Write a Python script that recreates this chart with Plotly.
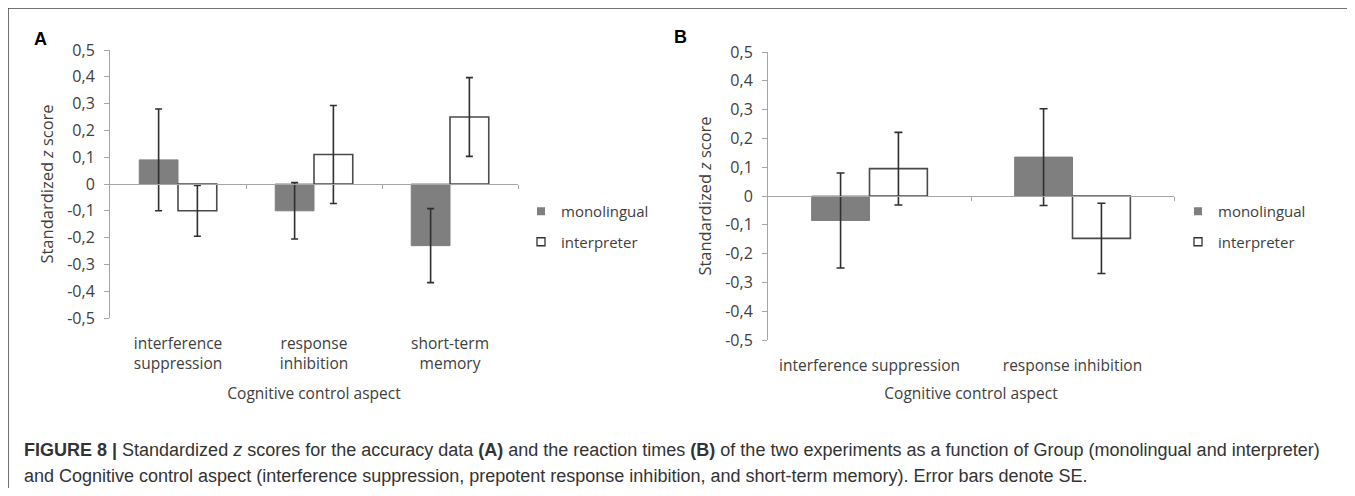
import plotly.graph_objects as go

# ---------------- data ----------------
categories_A = ["interference<br>suppression", "response<br>inhibition", "short-term<br>memory"]
mono_A = [0.09, -0.10, -0.23]
mono_A_se = [0.19, 0.105, 0.138]
interp_A = [-0.10, 0.11, 0.25]
interp_A_se = [0.095, 0.183, 0.147]

categories_B = ["interference suppression", "response inhibition"]
mono_B = [-0.085, 0.135]
mono_B_se = [0.165, 0.168]
interp_B = [0.095, -0.147]
interp_B_se = [0.126, 0.122]

y_tickvals = [0.5, 0.4, 0.3, 0.2, 0.1, 0, -0.1, -0.2, -0.3, -0.4, -0.5]
y_ticktext = ["0,5", "0,4", "0,3", "0,2", "0,1", "0", "-0,1", "-0,2", "-0,3", "-0,4", "-0,5"]

group_names = ["monolingual", "interpreter"]

# ---------------- style ----------------
# the page body has an 8px margin, so the figure is drawn 8px in from the window edge
OFF = 8
W, H = 1355 - 2 * OFF, 496 - 2 * OFF
MONO_FILL = "#7f7f7f"
INTERP_LINE = "#4a4a4a"
ERR = "#2f2f2f"
AX = "#a6a6a6"
TXT = "#404040"
FONT = "Open Sans"


def px_x(p):
    return (p - OFF) / W


def px_y(p):
    return 1 - (p - OFF) / H


domA_x = [px_x(110), px_x(518)]
domA_y = [px_y(318), px_y(50)]
domB_x = [px_x(768), px_x(1174)]
domB_y = [px_y(340), px_y(52)]

fig = go.Figure()


def add_bars(cats, mono, mono_se, interp, interp_se, xa, ya, cap):
    fig.add_trace(go.Bar(
        x=cats, y=mono, name=group_names[0], xaxis=xa, yaxis=ya,
        marker=dict(color=MONO_FILL, line=dict(color=MONO_FILL, width=1)),
        error_y=dict(type="data", array=mono_se, color=ERR, thickness=1.6, width=cap),
        showlegend=False, hoverinfo="skip",
    ))
    fig.add_trace(go.Bar(
        x=cats, y=interp, name=group_names[1], xaxis=xa, yaxis=ya,
        marker=dict(color="white", line=dict(color=INTERP_LINE, width=1.6)),
        error_y=dict(type="data", array=interp_se, color=ERR, thickness=1.6, width=cap),
        showlegend=False, hoverinfo="skip",
    ))


add_bars(categories_A, mono_A, mono_A_se, interp_A, interp_A_se, "x", "y", 3.5)
add_bars(categories_B, mono_B, mono_B_se, interp_B, interp_B_se, "x2", "y2", 4)

# invisible traces to carry the zero-line axes
fig.add_trace(go.Scatter(x=[None], y=[None], xaxis="x3", yaxis="y", showlegend=False, hoverinfo="skip"))
fig.add_trace(go.Scatter(x=[None], y=[None], xaxis="x4", yaxis="y2", showlegend=False, hoverinfo="skip"))

# legend entries
for lg, grp_suffix in (("legend", "A"), ("legend2", "B")):
    ya = "y" if lg == "legend" else "y2"
    xa = "x3" if lg == "legend" else "x4"
    fig.add_trace(go.Scatter(
        x=[None], y=[None], mode="markers", name=group_names[0], legend=lg,
        legendgroup=group_names[0] + grp_suffix, xaxis=xa, yaxis=ya,
        marker=dict(symbol="square", size=8, color=MONO_FILL, line=dict(width=0)),
    ))
    fig.add_trace(go.Scatter(
        x=[None], y=[None], mode="markers", name=group_names[1], legend=lg,
        legendgroup=group_names[1] + grp_suffix, xaxis=xa, yaxis=ya,
        marker=dict(symbol="square", size=8, color="white", line=dict(width=1.3, color="#333333")),
    ))

yaxis_common = dict(
    range=[-0.5, 0.5], tickvals=y_tickvals, ticktext=y_ticktext, automargin=False,
    showline=True, linecolor=AX, linewidth=1, ticks="outside", ticklen=5,
    tickcolor=AX, showgrid=False, zeroline=False, ticklabelstandoff=6,
    tickfont=dict(family=FONT, size=16, color=TXT),
    title=dict(text="Standardized <i>z</i> score", font=dict(family=FONT, size=16.5, color=TXT), standoff=9),
)


def xaxis_common(standoff, tstandoff):
    return dict(
        type="category", showline=False, ticks="", showgrid=False, zeroline=False, automargin=False,
        tickfont=dict(family=FONT, size=15.5, color=TXT), ticklabelstandoff=standoff,
        title=dict(text="Cognitive control aspect", font=dict(family=FONT, size=15.5, color=TXT),
                   standoff=tstandoff),
    )


zero_axis = dict(showticklabels=False, ticks="outside", ticklen=4, tickcolor=AX, automargin=False,
                 showline=True, linecolor=AX, linewidth=1, showgrid=False, zeroline=False)

legend_common = dict(xanchor="left", yanchor="top", font=dict(family=FONT, size=15, color=TXT),
                     tracegroupgap=8, traceorder="grouped", bgcolor="rgba(0,0,0,0)",
                     itemclick=False, borderwidth=0)

fig.update_layout(
    template="none",
    width=W, height=H, margin=dict(l=0, r=0, t=0, b=0, autoexpand=False),
    paper_bgcolor="white", plot_bgcolor="rgba(0,0,0,0)",
    barmode="group", bargap=0.43, bargroupgap=0,
    xaxis=dict(domain=domA_x, anchor="y", **xaxis_common(14, 15)),
    yaxis=dict(domain=domA_y, anchor="x", **yaxis_common),
    xaxis2=dict(domain=domB_x, anchor="y2", **xaxis_common(14, 13)),
    yaxis2=dict(domain=domB_y, anchor="x2", **yaxis_common),
    xaxis3=dict(overlaying="x", anchor="free", position=(domA_y[0] + domA_y[1]) / 2,
                domain=domA_x, range=[-0.5, 2.5], tickvals=[0.5, 1.5, 2.5], **zero_axis),
    xaxis4=dict(overlaying="x2", anchor="free", position=(domB_y[0] + domB_y[1]) / 2,
                domain=domB_x, range=[-0.5, 1.5], tickvals=[0.5, 1.5], **zero_axis),
    legend=dict(x=px_x(521), y=px_y(195), **legend_common),
    legend2=dict(x=px_x(1178), y=px_y(195), **legend_common),
    showlegend=True,
)

# panel letters
fig.add_annotation(text="<b>A</b>", x=px_x(40), y=px_y(39), xref="paper", yref="paper",
                   xanchor="center", yanchor="middle",
                   showarrow=False, font=dict(family="Liberation Sans", size=18, color="black"))
fig.add_annotation(text="<b>B</b>", x=px_x(681), y=px_y(37), xref="paper", yref="paper",
                   xanchor="center", yanchor="middle",
                   showarrow=False, font=dict(family="Liberation Sans", size=18, color="black"))

# caption
cap1 = ("<b>FIGURE 8 |</b> Standardized <i>z</i> scores for the accuracy data <b>(A)</b> and the reaction times "
        "<b>(B)</b> of the two experiments as a function of Group (monolingual and interpreter)")
cap2 = ("and Cognitive control aspect (interference suppression, prepotent response inhibition, "
        "and short-term memory). Error bars denote SE.")
fig.add_annotation(text=cap1, x=px_x(22), y=px_y(450), xref="paper", yref="paper",
                   xanchor="left", yanchor="middle",
                   showarrow=False, font=dict(family="Liberation Sans", size=18, color="#333333"))
fig.add_annotation(text=cap2, x=px_x(22), y=px_y(476), xref="paper", yref="paper",
                   xanchor="left", yanchor="middle",
                   showarrow=False, font=dict(family="Liberation Sans", size=18, color="#333333"))

# frame (top and left rules)
fig.add_shape(type="line", xref="paper", yref="paper", x0=px_x(7.5), x1=1, y0=px_y(8), y1=px_y(8),
              line=dict(color="#444444", width=1.5))
fig.add_shape(type="line", xref="paper", yref="paper", x0=px_x(8), x1=px_x(8), y0=px_y(8), y1=0,
              line=dict(color="#444444", width=1.5))

fig.write_html("out.html")
